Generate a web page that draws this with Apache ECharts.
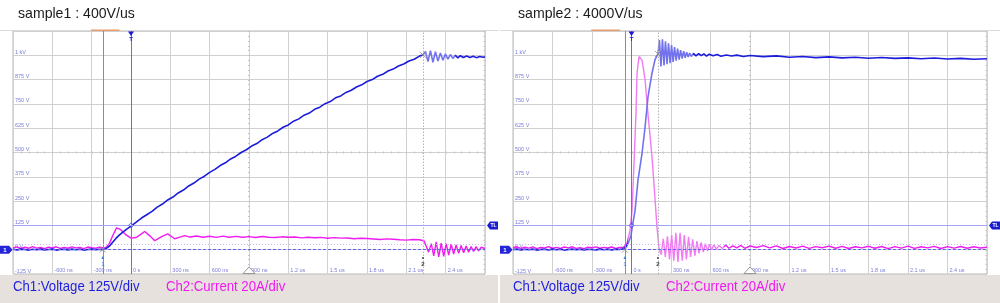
<!DOCTYPE html>
<html><head><meta charset="utf-8">
<script src="https://cdn.jsdelivr.net/npm/echarts@6/dist/echarts.min.js"></script>
<style>html,body{margin:0;padding:0;background:#fff}#c{width:1000px;height:303px}</style>
</head><body><div id="c"></div>
<script>
// ---------- text ----------
const titles = ['sample1 : 400V/us', 'sample2 : 4000V/us'];
const ch1Legend = 'Ch1:Voltage 125V/div';
const ch2Legend = 'Ch2:Current 20A/div';
// ---------- tick labels ----------
const timeTicks = [-900,-600,-300,0,300,600,900,1200,1500,1800,2100,2400,2700];
const timeTickLabels = ['','-600 ns','-300 ns','0 s','300 ns','600 ns','900 ns','1.2 us','1.5 us','1.8 us','2.1 us','2.4 us',''];
const voltTicks = [-125,0,125,250,375,500,625,750,875,1000,1125];
const voltTickLabels = ['-125 V','0 V','125 V','250 V','375 V','500 V','625 V','750 V','875 V','1 kV',''];
// ---------- scope settings ----------
const triggerTime = 0, triggerLevel = 125;
const s1Cursors = [-215, 2227];
const s2Cursors = [-50, 201];
const recordBar = [-305, -88];
// ---------- sample1 : voltage (ns, V) ----------
const s1VoltT = [-900,-870,-840,-810,-780,-750,-720,-690,-660,-630,-600,-570,-540,-510,-480,-450,-420,-390,-360,-330,-300,-270,-240,-215,
 -190,-165,-140,-115,-90,-60,-30,0,40,80,120,160,200,240,280,320,360,400,440,480,520,560,600,640,680,720,760,800,840,880,920,960,1000,
 1040,1080,1120,1160,1200,1240,1280,1320,1360,1400,1440,1480,1520,1560,1600,1640,1680,1720,1760,1800,1840,1880,1920,1960,2000,2040,2080,2120,2160,2200,2227,
 2246,2265,2284,2303,2322,2341,2360,2379,2398,2417,2436,2455,2474,2493,2512,2535,2560,2585,2610,2635,2660,2685,2700];
const s1VoltV = [2,-1,3,1,-2,2,0,3,-1,1,3,-2,1,2,-1,3,0,2,-2,1,3,0,2,1,
 5,18,38,58,75,92,107,121,142,163,180,197,219,235,256,271,292,307,328,343,363,378,398,413,433,447,467,481,500,514,533,546,566,
 579,598,611,630,642,661,673,692,703,722,733,751,762,781,791,809,820,837,848,865,875,892,902,919,929,945,955,971,980,996,1002,
 1020,968,1024,964,1018,970,1012,975,1007,980,1004,984,1000,987,998,989,996,989,995,988,994,990,992];
// ---------- sample1 : current (ns, A) ----------
const s1CurrT = [-900,-870,-840,-810,-780,-750,-720,-690,-660,-630,-600,-570,-540,-510,-480,-450,-420,-390,-360,-330,-300,-270,-240,-210,-190,
 -165,-140,-110,-78,-40,0,13,40,66,104,142,181,234,280,333,380,410,450,500,550,600,650,700,750,800,850,900,950,1000,1050,1100,1150,1200,1250,1300,1350,1400,1450,1500,1550,1600,1650,1700,1750,1800,1850,1900,1950,2000,2050,2100,2150,2200,2234,
 2255,2270,2290,2309,2328,2347,2366,2385,2404,2423,2442,2461,2480,2499,2518,2537,2556,2575,2594,2613,2632,2651,2670,2700];
const s1CurrI = [1.5,2.3,1.0,2.0,1.2,2.5,1.3,1.8,0.8,2.1,1.4,2.4,1.1,1.9,1.2,2.3,1.5,1.8,0.9,2.2,1.6,1.2,2.1,1.4,1.8,
 5,11.5,18,16.5,12.4,9.5,9,10,12,15,11.6,7.4,10.7,13,9,10.5,11.6,10.4,11.3,10.2,11.1,10.1,11.2,10.3,11.0,10.2,10.8,10.0,10.9,10.3,10.0,10.6,10.2,10.5,9.7,10.3,9.8,10.1,9.4,9.9,9.5,9.6,9.0,9.4,9.2,8.8,8.4,8.9,8.6,8.2,7.9,8.4,8.2,7.4,
 2,-2,5,-5,6.5,-6,5.5,-5.5,5,-4.5,4.5,-3.5,4,-3,3.5,-2.5,3,-2,2.5,-1.5,2.5,-1,2,1];
// ---------- sample2 : voltage (ns, V) ----------
const s2VoltT = [-900,-870,-840,-810,-780,-750,-720,-690,-660,-630,-600,-570,-540,-510,-480,-450,-420,-390,-360,-330,-300,-270,-240,-210,-180,-150,-120,-90,-70,
 -49,-27,-4,6,27,49,80,103,125,156,178,201,
 212,224,235,247,258,270,281,293,304,316,327,339,350,362,373,385,396,408,419,431,442,454,470,490,510,530,550,570,590,620,650,680,720,760,800,850,900,
 1000,1100,1200,1300,1400,1500,1600,1700,1800,1900,2000,2100,2200,2300,2400,2500,2600,2700];
const s2VoltV = [1,3,-1,2,0,3,-2,1,2,-1,3,0,2,-2,1,3,0,2,-1,2,1,-1,3,0,2,-1,2,1,4,
 10,31,72,119,201,356,496,630,785,909,976,1007,
 1078,942,1082,948,1072,954,1062,960,1052,966,1042,972,1034,978,1027,983,1021,987,1016,991,1012,994,1010,997,1009,998,1007,996,1006,998,1004,995,1002,996,1001,994,999,
 993,997,990,994,988,992,987,990,985,989,984,987,982,986,981,984,980,982];
// ---------- sample2 : current (ns, A) ----------
const s2CurrT = [-900,-870,-840,-810,-780,-750,-720,-690,-660,-630,-600,-570,-540,-510,-480,-450,-420,-390,-360,-330,-300,-270,-240,-210,-180,-150,-120,-90,-60,
 -34,-11,4,19,34,42,57,70,80,103,125,156,178,194,209,
 225,241,257,273,289,305,321,337,353,369,385,401,417,433,449,465,481,497,513,529,545,561,577,593,609,625,645,665,690,715,740,770,800,830,860,900,
 950,1000,1050,1100,1150,1200,1250,1300,1350,1400,1450,1500,1550,1600,1650,1700,1750,1800,1850,1900,1950,2000,2050,2100,2150,2200,2250,2300,2350,2400,2450,2500,2550,2600,2650,2700];
const s2CurrI = [1.6,2.4,1.1,2.0,1.3,2.3,0.9,1.8,1.4,2.5,1.2,1.9,1.0,2.2,1.5,2.4,1.1,1.7,0.9,2.1,1.6,2.3,1.2,1.9,1.4,2.2,1.0,1.8,2.0,
 5,16,32,71,112,145,159,158,156,140,112,76,43,18,1,
 -4,9,-6,11,-8,12,-9,14,-10,14,-9,12,-8,10.5,-6,8.5,-5,7,-3,6,-2,5,-1,4.5,0,4,0.5,3.5,1,3.8,1.2,3.2,1.5,3.5,1.2,3,
 1.8,3.4,1.5,3.1,1.0,2.6,1.4,3.0,1.1,2.5,1.6,2.9,1.2,2.7,1.0,2.4,1.5,2.8,1.2,2.6,0.9,2.5,1.3,2.9,1.1,2.4,1.5,2.7,1.0,2.5,1.3,2.6,1.2,2.4,1.4,2.0];

// ---------- layout / style ----------
const FONT = '"Liberation Sans", Arial, sans-serif';
const BLUE = '#1c1cdc', MAG = '#ef1cef';
const panels = [
  {left:13, width:472, title:titles[0], vt:s1VoltT, vv:s1VoltV, ct:s1CurrT, ci:s1CurrI, cur:s1Cursors,
   vLight:[2236,2470], cLight:[99999,99999]},
  {left:513, width:474, title:titles[1], vt:s2VoltT, vv:s2VoltV, ct:s2CurrT, ci:s2CurrI, cur:s2Cursors,
   vLight:[-30,470], cLight:[-30,700]}
];
const TOP = 31, HEIGHT = 243;
const zip = (a, b) => a.map((t, i) => [t, b[i]]);
const tLab = v => { const i = timeTicks.indexOf(v); return i < 0 ? '' : timeTickLabels[i]; };
const vLab = v => { const i = voltTicks.indexOf(v); return i < 0 ? '' : voltTickLabels[i]; };

const grid = [], xAxis = [], yAxis = [], series = [], visualMap = [];
panels.forEach((p, i) => {
  grid.push({left:p.left, top:TOP, width:p.width, height:HEIGHT, show:true, borderColor:'#b8b8b8', borderWidth:1, backgroundColor:'#fff'});
  xAxis.push({type:'value', gridIndex:i, min:-900, max:2700, interval:300,
    axisLine:{show:false}, axisTick:{show:false},
    splitLine:{show:true, lineStyle:{color:'#d0d0d0', width:1}},
    axisLabel:{inside:true, fontSize:5.5, fontFamily:FONT, color:'#7c7cd8', align:'left', verticalAlign:'bottom', margin:1, padding:[0,0,0,2], formatter:tLab}});
  yAxis.push({type:'value', gridIndex:i, min:-125, max:1125, interval:125, position:'left',
    axisLine:{show:false}, axisTick:{show:false},
    splitLine:{show:true, lineStyle:{color:'#d0d0d0', width:1}},
    axisLabel:{inside:true, fontSize:5.5, fontFamily:FONT, color:'#7c7cd8', align:'left', verticalAlign:'bottom', margin:2, formatter:vLab}});
  yAxis.push({type:'value', gridIndex:i, min:-20, max:180, show:false});
  // reference lines
  series.push({type:'line', xAxisIndex:i, yAxisIndex:2*i, data:[], z:2, silent:true,
    markLine:{silent:true, symbol:'none', animation:false, label:{show:false},
      data:[
        {xAxis:triggerTime, lineStyle:{color:'#6a6af0', type:'solid', width:1}},
        {xAxis:p.cur[0], lineStyle:{color:'#8c8c8c', type:'solid', width:1}},
        {xAxis:p.cur[1], lineStyle:{color:'#b4b4b4', type:[1.5,1.5], width:1}},
        {yAxis:triggerLevel, lineStyle:{color:'#a4a4f4', type:'solid', width:1}},
        {yAxis:0, lineStyle:{color:'#6464e4', type:[3,2], width:1}},
        {yAxis:26, lineStyle:{color:'#c8b4f0', type:[1,2], width:1}}
      ]}});
  const ci = series.length;
  series.push({type:'line', xAxisIndex:i, yAxisIndex:2*i+1, data:zip(p.ct, p.ci), showSymbol:false, z:3,
    lineStyle:{width:1.4}, animation:false});
  const vi = series.length;
  series.push({type:'line', xAxisIndex:i, yAxisIndex:2*i, data:zip(p.vt, p.vv), showSymbol:false, z:4,
    lineStyle:{width:1.6}, animation:false});
  visualMap.push({show:false, type:'piecewise', seriesIndex:ci, dimension:0,
    pieces:[{lt:p.cLight[0], color:MAG},{gte:p.cLight[0], lt:p.cLight[1], color:'#f27af2'},{gte:p.cLight[1], color:MAG}]});
  visualMap.push({show:false, type:'piecewise', seriesIndex:vi, dimension:0,
    pieces:[{lt:p.vLight[0], color:BLUE},{gte:p.vLight[0], lt:p.vLight[1], color:'#7272ee'},{gte:p.vLight[1], color:BLUE}]});
});

const chart = echarts.init(document.getElementById('c'), null, {renderer:'canvas'});
chart.setOption({animation:false, backgroundColor:'#fff', grid, xAxis, yAxis, series, visualMap});

// ---------- scope decorations placed through the axes ----------
const g = [];
panels.forEach((p, i) => {
  const px = t => chart.convertToPixel({xAxisIndex:i}, t);
  const py = v => chart.convertToPixel({yAxisIndex:2*i}, v);
  const x0 = i === 0 ? 0 : 500, x1 = i === 0 ? 498 : 1000;
  const gl = p.left, gr = p.left + p.width, gb = TOP + HEIGHT;
  g.push({type:'rect', shape:{x:x0, y:275, width:x1-x0, height:28}, style:{fill:'#e6e1dd'}, z:1});
  g.push({type:'line', shape:{x1:x0, y1:30.5, x2:x1, y2:30.5}, style:{stroke:'#dadada', lineWidth:1}, z:1});
  g.push({type:'text', x:x0+18, y:14, scaleX:0.94, style:{text:p.title, font:'15px '+FONT, fill:'#1a1a1a', textVerticalAlign:'middle'}, z:10});
  g.push({type:'text', x:x0+13, y:287, scaleX:0.94, style:{text:ch1Legend, font:'14px '+FONT, fill:'#1e1ee0', textVerticalAlign:'middle'}, z:10});
  g.push({type:'text', x:x0+166, y:287, scaleX:0.94, style:{text:ch2Legend, font:'14px '+FONT, fill:'#f01af0', textVerticalAlign:'middle'}, z:10});
  // minor division ticks on the centre cross and right edge
  const my = py(500), mxc = px(900);
  for (let t = -900; t <= 2700; t += 60) {
    const x = Math.round(px(t)) + 0.5;
    g.push({type:'line', shape:{x1:x, y1:my-1, x2:x, y2:my+1}, style:{stroke:'#c4c4c4', lineWidth:1}, z:1});
  }
  for (let v = -125; v <= 1125; v += 25) {
    const y = Math.round(py(v)) + 0.5;
    g.push({type:'line', shape:{x1:mxc-1, y1:y, x2:mxc+1, y2:y}, style:{stroke:'#c4c4c4', lineWidth:1}, z:1});
    g.push({type:'line', shape:{x1:gr-1.5, y1:y, x2:gr, y2:y}, style:{stroke:'#c4c4c4', lineWidth:1}, z:1});
  }
  // record window bar
  g.push({type:'rect', shape:{x:px(recordBar[0]), y:29.5, width:px(recordBar[1])-px(recordBar[0]), height:1.5}, style:{fill:'#eb9a6a'}, z:12});
  // trigger position marker
  const tx = px(triggerTime);
  g.push({type:'polygon', shape:{points:[[tx-3,31.5],[tx+3,31.5],[tx,36]]}, style:{fill:'#1a1ad0'}, z:12});
  g.push({type:'text', x:tx, y:39.5, style:{text:'T', font:'bold 6px '+FONT, fill:'#1a1ad0', textAlign:'center', textVerticalAlign:'middle'}, z:12});
  // trigger level tag
  const ty = py(triggerLevel);
  g.push({type:'polygon', shape:{points:[[gr+2,ty],[gr+5,ty-4],[gr+13,ty-4],[gr+13,ty+4],[gr+5,ty+4]]}, style:{fill:'#1a1ad0'}, z:12});
  g.push({type:'text', x:gr+8.5, y:ty+0.5, style:{text:'TL', font:'bold 5px '+FONT, fill:'#fff', textAlign:'center', textVerticalAlign:'middle'}, z:13});
  // ch1 ground tag
  const zy = py(0);
  g.push({type:'polygon', shape:{points:[[x0+0,zy-4],[x0+9,zy-4],[x0+12.5,zy],[x0+9,zy+4],[x0+0,zy+4]]}, style:{fill:'#2424d8'}, z:12});
  g.push({type:'text', x:x0+5, y:zy+0.5, style:{text:'1', font:'bold 6px '+FONT, fill:'#fff', textAlign:'center', textVerticalAlign:'middle'}, z:13});
  // cursor markers
  const c1 = px(p.cur[0]), c2 = px(p.cur[1]);
  g.push({type:'polygon', shape:{points:[[c1-1.5,259],[c1+1.5,259],[c1,256]]}, style:{fill:'#3c7ee6'}, z:12});
  g.push({type:'text', x:c1, y:264, style:{text:'1', font:'6px '+FONT, fill:'#3c7ee6', textAlign:'center', textVerticalAlign:'middle'}, z:12});
  g.push({type:'circle', shape:{cx:c2, cy:258, r:0.9}, style:{fill:'#333'}, z:12});
  g.push({type:'text', x:c2, y:264, style:{text:'2', font:'bold 6px '+FONT, fill:'#333', textAlign:'center', textVerticalAlign:'middle'}, z:12});
  const cross = (x, y) => {
    g.push({type:'line', shape:{x1:x-3, y1:y-3, x2:x+3, y2:y+3}, style:{stroke:'#8a8a8a', lineWidth:0.8}, z:12});
    g.push({type:'line', shape:{x1:x-3, y1:y+3, x2:x+3, y2:y-3}, style:{stroke:'#8a8a8a', lineWidth:0.8}, z:12});
  };
  const k1 = p.vt.indexOf(p.cur[0]), k2 = p.vt.indexOf(p.cur[1]);
  cross(c1, py(k1 >= 0 ? p.vv[k1] : 0));
  cross(c2, py(p.vv[k2]));
  // trigger point diamond
  g.push({type:'polygon', shape:{points:[[tx,ty-2.5],[tx+2.5,ty],[tx,ty+2.5],[tx-2.5,ty]]}, style:{fill:'none', stroke:'#4a4ae8', lineWidth:0.8}, z:12});
  // horizontal centre marker
  g.push({type:'polygon', shape:{points:[[mxc-6,gb-0.5],[mxc,gb-7],[mxc+6,gb-0.5]]}, style:{fill:'#fff', stroke:'#808080', lineWidth:0.8}, z:12});
});
chart.setOption({graphic: g});
</script>
</body></html>
